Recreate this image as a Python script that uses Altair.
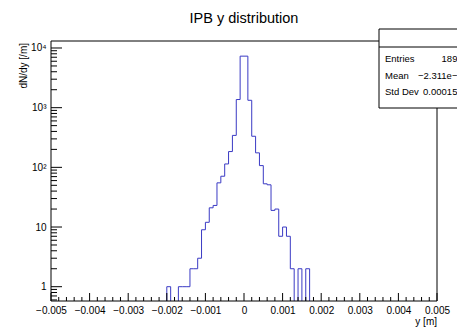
import altair as alt
import pandas as pd

FONT = "Liberation Sans"

title_text = "IPB y distribution"
x_title = "y [m]"
y_title = "dN/dy [/m]"

# histogram: bins of width 0.0001 starting at -0.0021
bin_lo = -0.0021
bin_width = 0.0001
counts = [0, 1, 0, 0, 1, 1, 1, 2, 2, 3, 9, 12, 21, 23, 55, 71, 114, 184, 343, 1370,
          7300, 7300, 1330, 332, 175, 107, 53, 51, 19, 20, 7, 10, 7, 2, 0, 2, 0, 2, 0]

x_tick_values = [-0.005, -0.004, -0.003, -0.002, -0.001, 0.0, 0.001, 0.002, 0.003, 0.004, 0.005]
x_tick_labels = ["−0.005", "−0.004", "−0.003", "−0.002", "−0.001", "0",
                 "0.001", "0.002", "0.003", "0.004", "0.005"]
y_tick_values = [1, 10, 100, 1000, 10000]
y_tick_labels = ["1", "10", "10²", "10³", "10⁴"]

stat_names = ["Entries", "Mean", "Std Dev"]
stat_values = [str(sum(counts)), "−2.311e−06", "0.0001534"]

W, H = 386, 260
Y_MIN, Y_MAX = 0.576, 13100

xs = alt.Scale(domain=[-0.005, 0.005], nice=False, zero=False)
ys = alt.Scale(type="log", domain=[Y_MIN, Y_MAX], nice=False)

x_expr = "[" + ",".join("'%s'" % s for s in x_tick_labels) + "][round((datum.value + 0.005) / 0.001)]"
y_expr = "[" + ",".join("'%s'" % s for s in y_tick_labels) + "][round(log(datum.value) / LN10)]"

x_axis = alt.Axis(values=x_tick_values, labelExpr=x_expr, title=None, domain=False, ticks=False,
                  grid=False, labelFontSize=10, labelPadding=4, labelFont=FONT, labelColor="black",
                  labelFlush=False, labelOverlap=False, labelBound=False)
y_axis = alt.Axis(values=y_tick_values, labelExpr=y_expr, title=None, domain=False, ticks=False,
                  grid=False, labelFontSize=10, labelPadding=5, labelFont=FONT, labelColor="black",
                  labelFlush=False, labelOverlap=False, labelBound=False)

edges = [round(bin_lo + i * bin_width, 7) for i in range(len(counts) + 1)]
hist_df = pd.DataFrame({"edge": edges, "count": counts + [counts[-1]]})

line = alt.Chart(hist_df).transform_calculate(
    plot="max(datum.count, 0.1)"
).mark_line(interpolate="step-after", clip=True, color="#3a3ac4", strokeWidth=1).encode(
    x=alt.X("edge:Q", scale=xs, axis=x_axis),
    y=alt.Y("plot:Q", scale=ys, axis=y_axis),
)

x_minor = [round(-0.005 + i * 0.0002, 5) for i in range(51) if i % 5 != 0]
y_minor = [m * 10 ** e for e in range(-1, 5) for m in range(2, 10) if Y_MIN <= m * 10 ** e <= Y_MAX]

def xticks(vals, length):
    return alt.Chart(pd.DataFrame({"v": vals})).mark_rule(color="black", strokeWidth=1).encode(
        x=alt.X("v:Q", scale=xs, axis=x_axis), y=alt.value(H), y2=alt.value(H - length))

def yticks(vals, length):
    return alt.Chart(pd.DataFrame({"v": vals})).mark_rule(color="black", strokeWidth=1).encode(
        y=alt.Y("v:Q", scale=ys, axis=y_axis), x=alt.value(0), x2=alt.value(length))

one = alt.Data(values=[{"k": 0}])

frame = alt.Chart(one).mark_rect(fillOpacity=0, stroke="black", strokeWidth=1).encode(
    x=alt.value(0), x2=alt.value(W), y=alt.value(0), y2=alt.value(H))

box = alt.Chart(one).mark_rect(fill="white", stroke="black", strokeWidth=1).encode(
    x=alt.value(328), x2=alt.value(440), y=alt.value(-12), y2=alt.value(67))
sep = alt.Chart(one).mark_rule(color="black", strokeWidth=1).encode(
    x=alt.value(328), x2=alt.value(440), y=alt.value(6))

def text(t, x, y, size, align="left", angle=0):
    kw = dict(align=align, baseline="middle", fontSize=size, font=FONT, color="black")
    if angle:
        kw["angle"] = angle
    return alt.Chart(alt.Data(values=[{"t": t}])).mark_text(**kw).encode(
        text="t:N", x=alt.value(x), y=alt.value(y))

row_y = [18, 34.5, 50.5]
stats = []
for i in range(3):
    stats.append(text(stat_names[i], 334, row_y[i], 9.5))
    stats.append(text(stat_values[i], 417, row_y[i], 9.5, align="right"))

title = text(title_text, 193, -22.5, 14.5, align="center")
ytitle = text(y_title, -27, 2, 10, align="right", angle=270)
xtitle = text(x_title, 386, 281, 10, align="right")

chart = alt.layer(
    line, xticks(x_tick_values, 8), xticks(x_minor, 4), yticks(y_tick_values, 11), yticks(y_minor, 6),
    frame, box, sep, *stats, title, ytitle, xtitle,
).properties(
    width=W, height=H,
    autosize=alt.AutoSizeParams(type="none"),
    padding={"left": 51, "top": 41, "right": 20, "bottom": 26},
    background="white",
).configure_view(strokeWidth=0)

chart.save("out.html", embed_options={"renderer": "svg", "actions": False})
